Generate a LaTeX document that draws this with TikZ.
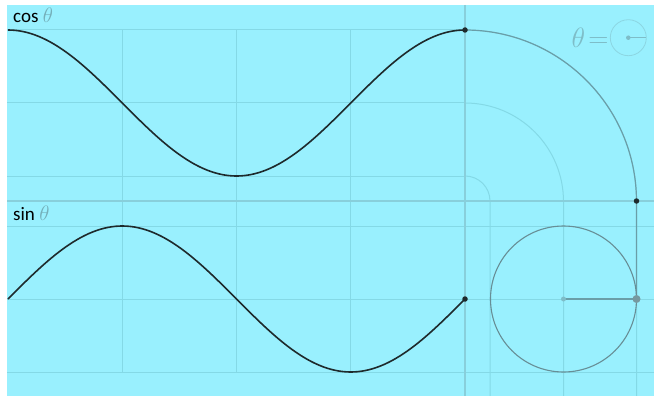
\RequirePackage{fix-cm}
\documentclass[tikz,border=0pt]{standalone}
\usepackage{fontspec}
\setmainfont{Carlito}
\begin{document}
\begin{tikzpicture}[x=1pt,y=-1pt,
  gridln/.style={draw=gridc,line width=1pt},
  thickln/.style={draw=thickc,line width=2.6pt},
  curve/.style={draw=curvec,line width=1.6pt},
  trace/.style={draw=tracec,line width=1.2pt},
  blackdot/.style={circle,fill=curvec,inner sep=0pt,minimum size=5.5pt},
  lbl/.style={font=\fontsize{19}{19}\selectfont,inner sep=0pt,anchor=base west},
]
\definecolor{bgc}{HTML}{99F0FE}
\definecolor{gridc}{HTML}{84D9E6}
\definecolor{thickc}{HTML}{88CFDB}
\definecolor{curvec}{HTML}{1E2A2C}
\definecolor{tracec}{HTML}{6A9EA8}
\definecolor{circc}{HTML}{678E96}
\definecolor{thetac}{HTML}{7EBDC8}
\definecolor{lthetac}{HTML}{74AFB9}
\definecolor{iconc}{HTML}{8CD6E2}
\newcommand{\thsym}{\textcolor{lthetac}{\fontsize{21}{21}\selectfont$\theta$}}
\useasboundingbox (0,0) rectangle (654,396);
\fill[white] (0,0) rectangle (654,396);
\fill[bgc] (7,5) rectangle (654,396);
% key coordinates
\coordinate (O) at (465,201);
\coordinate (cosTop) at (465,30);
\coordinate (arcEnd) at (636.5,201);
\coordinate (C) at (563.5,299);
\coordinate (P) at (636.5,299);
\coordinate (sinEnd) at (465,299);
% grid: top panel horizontals
\foreach \yy in {30,103,176} \draw[gridln] (7,\yy) -- (465,\yy);
% grid: bottom panel horizontals
\foreach \yy in {226,299,372} \draw[gridln] (7,\yy) -- (654,\yy);
% grid: left verticals
\foreach \xx in {122.25,236.5,350.75} \draw[gridln] (\xx,30) -- (\xx,372);
% bent grid lines (top horizontals -> right verticals)
\draw[gridln] (465,103) arc[start angle=-90,end angle=0,radius=98.5] -- (563.5,396);
\draw[gridln] (465,176) arc[start angle=-90,end angle=0,radius=25] -- (490,396);
\draw[gridln] (cosTop) arc[start angle=-90,end angle=0,radius=171.5] -- (636.5,396);
% thick dividers
\draw[thickln] (7,201) -- (654,201);
\draw[thickln] (465,5) -- (465,396);
% trace
\draw[trace] (cosTop) arc[start angle=-90,end angle=0,radius=171.5] -- (P);
% curves
\draw[curve] plot[domain=0:360,samples=120] ({8+\x*1.269444},{103-73*cos(\x)});
\draw[curve] plot[domain=0:360,samples=120] ({8+\x*1.269444},{299-73*sin(\x)});
% circle
\draw[draw=circc,line width=1.1pt] (C) circle[radius=73];
\draw[trace,line width=1.4pt] (C) -- (P);
\node[circle,fill=thetac,inner sep=0pt,minimum size=5pt] (cdot) at (C) {};
\node[circle,fill=circc!90,inner sep=0pt,minimum size=8pt] (pdot) at (P) {};
% black dots
\node[blackdot] (d1) at (cosTop) {};
\node[blackdot] (d2) at (arcEnd) {};
\node[blackdot] (d3) at (sinEnd) {};
% labels
\node[lbl] (coslbl) at (13,23) {cos \thsym};
\node[lbl] (sinlbl) at (13,220) {sin \thsym};
% theta icon
\node[inner sep=0pt,anchor=base west,text=thetac,font=\fontsize{28}{28}\selectfont] (thlbl) at (571.5,47.5) {$\theta\!=$};
\coordinate (IC) at (628.3,37.7);
\draw[draw=iconc,line width=0.8pt] (IC) circle[radius=18];
\draw[draw=thetac,line width=1.2pt] (IC) -- ++(18,0);
\node[circle,fill=thetac,inner sep=0pt,minimum size=4.5pt] (icdot) at (IC) {};
\end{tikzpicture}
\end{document}
